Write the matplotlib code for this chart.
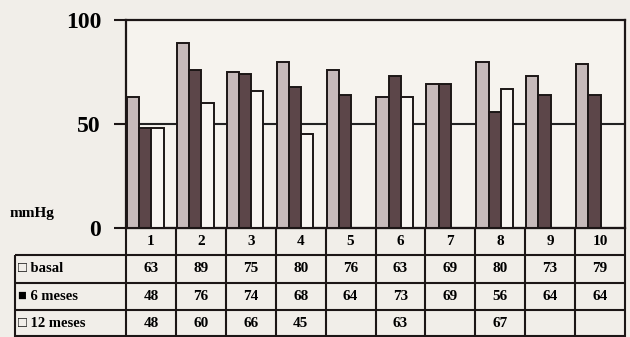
import numpy as np
import matplotlib
matplotlib.use("Agg")
import matplotlib.pyplot as plt

# blood pressure per patient (mmHg)
patients = ["1", "2", "3", "4", "5", "6", "7", "8", "9", "10"]
basal = [63, 89, 75, 80, 76, 63, 69, 80, 73, 79]
meses6 = [48, 76, 74, 68, 64, 73, 69, 56, 64, 64]
meses12 = [48, 60, 66, 45, None, 63, None, 67, None, None]

series = [
    ("\u25a1 basal", basal, "#c6baba"),
    ("\u25a0 6 meses", meses6, "#5c4649"),
    ("\u25a1 12 meses", meses12, "#f8f5f1"),
]

plt.rcParams["font.family"] = ["Liberation Serif", "DejaVu Sans"]
plt.rcParams["font.weight"] = "bold"

W, H = 630, 337
fig = plt.figure(figsize=(W / 100, H / 100), dpi=100)
fig.patch.set_facecolor("#f1eee9")

left, right, top, zero = 126, 625, 20, 228
ax = fig.add_axes([left / W, 1 - zero / H, (right - left) / W, (zero - top) / H])
ax.set_facecolor("#f6f3ee")
ax.set_xlim(-0.5, 9.5)
ax.set_ylim(0, 100)

x = np.arange(len(patients))
bw = 0.245
for j, (name, vals, col) in enumerate(series):
    xs = [xi - 0.48 + bw / 2 + j * bw for xi, v in zip(x, vals) if v is not None]
    hs = [v for v in vals if v is not None]
    ax.bar(xs, hs, width=bw, color=col, edgecolor="#1c1616", linewidth=1.4, zorder=3)

ax.axhline(50, color="#222", lw=1.5, zorder=1)

for s in ax.spines.values():
    s.set_linewidth(1.6)
    s.set_color("#1c1616")
ax.set_xticks([])
ax.set_yticks([0, 50, 100])
ax.set_yticklabels(["0", "50", "100"], fontsize=17, fontweight="bold")
ax.tick_params(axis="y", length=9, width=1.5, pad=9, color="#1c1616")
ax.get_yticklabels()[0].set_y(-2)
fig.text(10 / W, 1 - 213 / H, "mmHg", fontsize=11, fontweight="bold", va="center")

# data table under the bars, columns aligned with the patient slots
tab = fig.add_axes([left / W, 0, (right - left) / W, (H - zero) / H])
tab.set_xlim(-0.5, 9.5)
tab.set_ylim(4, 0)
tab.axis("off")
xl = -0.5 - (left - 15) / 50.0
lc = "#1c1616"
tab.hlines([0, 1], -0.5, 9.5, color=lc, lw=1.5, clip_on=False)
tab.hlines([2, 3, 3.97], xl, 9.5, color=lc, lw=1.5, clip_on=False)
tab.hlines([1], xl, -0.5, color=lc, lw=1.5, clip_on=False)
tab.vlines(np.arange(-0.5, 10), 0, 4, color=lc, lw=1.5, clip_on=False)
tab.vlines([xl], 1, 4, color=lc, lw=1.5, clip_on=False)

for k, p in enumerate(patients):
    tab.text(k, 0.5, p, ha="center", va="center", fontsize=11, fontweight="bold")
for r, (name, vals, col) in enumerate(series):
    tab.text(xl + 0.06, r + 1.5, name, ha="left", va="center", fontsize=10.5,
             fontweight="bold", clip_on=False)
    for k, v in enumerate(vals):
        if v is not None:
            tab.text(k, r + 1.5, str(v), ha="center", va="center", fontsize=11,
                     fontweight="bold")

fig.savefig("out.png", dpi=100, facecolor=fig.get_facecolor())
